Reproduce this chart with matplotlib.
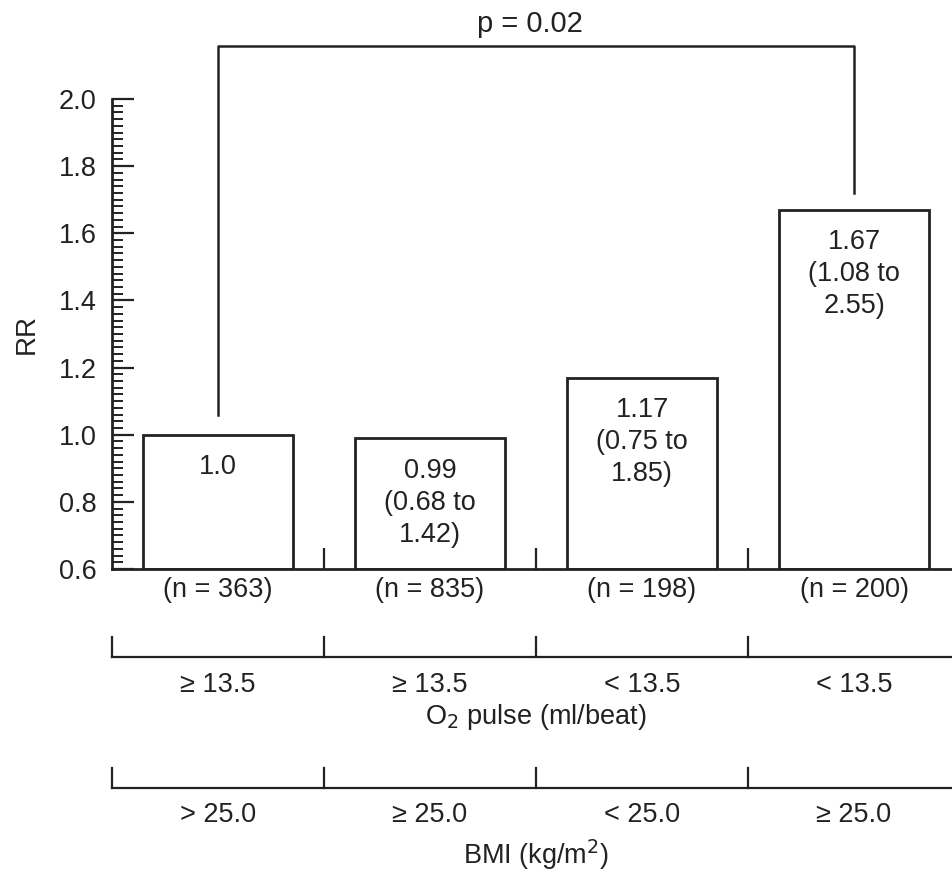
import matplotlib.pyplot as plt
from matplotlib.ticker import MultipleLocator

plt.rcParams['font.family'] = ['Liberation Sans', 'DejaVu Sans']

# data
rr = [1.0, 0.99, 1.17, 1.67]
bar_text = ['1.0', '0.99\n(0.68 to\n1.42)', '1.17\n(0.75 to\n1.85)', '1.67\n(1.08 to\n2.55)']
n_labels = ['(n = 363)', '(n = 835)', '(n = 198)', '(n = 200)']
o2_labels = ['≥ 13.5', '≥ 13.5', '< 13.5', '< 13.5']
bmi_labels = ['> 25.0', '≥ 25.0', '< 25.0', '≥ 25.0']
p_label = 'p = 0.02'
bracket_ends = [1.06, 1.72]
bracket_top = 2.158

ink = '#222222'
fs = 19.5

fig = plt.figure(figsize=(9.52, 8.75), dpi=100)
ax = fig.add_axes([112 / 952, 1 - 569 / 875, 1 - 112 / 952, 470 / 875])

x = list(range(len(rr)))
ax.bar(x, [v - 0.6 for v in rr], bottom=0.6, width=0.71,
       facecolor='white', edgecolor=ink, linewidth=2)

for xi, v, t in zip(x, rr, bar_text):
    ax.text(xi, v - 0.058, t, ha='center', va='top', fontsize=fs,
            linespacing=1.3, color=ink)

ax.set_xlim(-0.5, 3.462)
ax.set_ylim(0.6, 2.0)
ax.yaxis.set_major_locator(MultipleLocator(0.2))
ax.yaxis.set_minor_locator(MultipleLocator(0.02))
ax.tick_params(axis='y', which='major', direction='in', length=16, width=1.6,
               pad=11, labelsize=fs, colors=ink)
ax.tick_params(axis='y', which='minor', direction='in', length=8, width=1.4,
               colors=ink)
ax.set_xticks([0.5, 1.5, 2.5])
ax.set_xticklabels([])
ax.tick_params(axis='x', direction='in', length=15, width=1.6, colors=ink)
ax.spines['top'].set_visible(False)
ax.spines['right'].set_visible(False)
for s in ['left', 'bottom']:
    ax.spines[s].set_linewidth(2)
    ax.spines[s].set_color(ink)
ax.set_ylabel('RR', fontsize=20, labelpad=14, color=ink)

# significance bracket
ax.plot([0, 0, 3, 3], [bracket_ends[0], bracket_top, bracket_top, bracket_ends[1]],
        color=ink, lw=1.8, clip_on=False)
ax.text(1.47, 2.2, p_label, ha='center', va='baseline', fontsize=21,
        color=ink, clip_on=False)

trans = ax.get_xaxis_transform()
for xi, t in zip(x, n_labels):
    ax.text(xi, -0.045, t, transform=trans, ha='center', va='center', fontsize=fs,
            color=ink)

# grouping axes below the bars
def group_row(y_line, labels, y_lab, title, y_title):
    ax.plot([-0.5, 3.462], [y_line, y_line], transform=trans, color=ink,
            lw=1.6, clip_on=False)
    for sx in [-0.5, 0.5, 1.5, 2.5]:
        ax.plot([sx, sx], [y_line, y_line + 0.043], transform=trans,
                color=ink, lw=1.6, clip_on=False)
    for xi, t in zip(x, labels):
        ax.text(xi, y_lab, t, transform=trans, ha='center', va='center',
                fontsize=fs, color=ink)
    ax.text(1.5, y_title, title, transform=trans, ha='center', va='center',
            fontsize=fs, color=ink)

group_row(-0.187, o2_labels, -0.247, 'O$_2$ pulse (ml/beat)', -0.315)
group_row(-0.466, bmi_labels, -0.523, 'BMI (kg/m$^2$)', -0.609)

fig.savefig('out.png', dpi=100)
